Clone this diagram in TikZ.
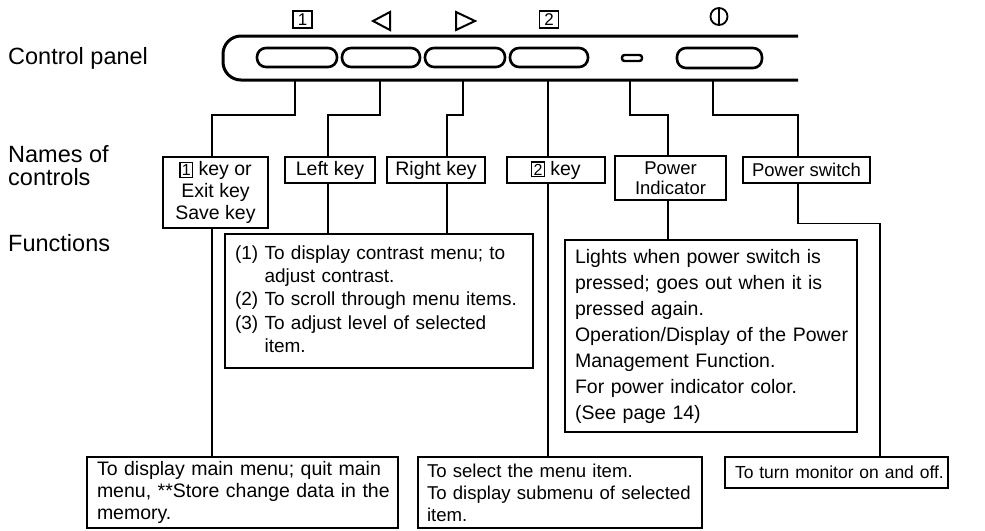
\documentclass[tikz,border=0pt]{standalone}
\usepackage{fontspec}
\setmainfont{Liberation Sans}
\usetikzlibrary{calc}
\newcommand{\bxd}[1]{{\setlength{\fboxsep}{1.2pt}\setlength{\fboxrule}{1.2pt}\fbox{\fontsize{16}{16}\selectfont #1}}}
\newcommand{\ml}[1]{\mbox{#1}}
\begin{document}
\begin{tikzpicture}[x=1pt,y=-1pt,
  panel/.style={line width=3pt},
  btn/.style={line width=2.6pt, rounded corners=9pt},
  lbl/.style={anchor=west, font=\fontsize{23.5}{24}\selectfont, align=left, inner sep=0pt},
  namebox/.style={draw, line width=1.3pt, inner sep=0pt, align=center, font=\fontsize{19.5}{21}\selectfont},
  txtbox/.style={draw, line width=1.3pt, inner ysep=0pt, inner xsep=10pt, align=left},
  sym/.style={draw, line width=1.8pt, inner sep=0pt, minimum width=19pt, minimum height=17pt, font=\fontsize{17}{17}\selectfont},
  conn/.style={line width=1.3pt}]
\useasboundingbox (0,0) rectangle (985,530);
\fill[white] (0,0) rectangle (985,530);

% left labels
\node[lbl] (lcp) at (8,58) {Control panel};
\node[lbl, font=\fontsize{23.5}{23}\selectfont] (lnc) at (8,166) {Names of\\controls};
\node[lbl] (lfn) at (8,243) {Functions};

% top symbols
\node[sym] (sy1) at (302.5,19.5) {1};
\draw[line width=2pt, line join=miter] (390,12) -- (373,21) -- (390,30) -- cycle;
\draw[line width=2pt, line join=miter] (456,12) -- (475,21) -- (456,30) -- cycle;
\node[sym] (sy2) at (549,19.5) {2};
\draw[line width=1.8pt] (719,16.5) circle (8.5);
\draw[line width=1.8pt] (719,8) -- (719,25);

% control panel
\draw[panel, rounded corners=18pt] (798,36) -- (223,36) -- (223,80) -- (798,80);
\draw[btn] (257,48) rectangle (337,67);
\draw[btn] (342,48) rectangle (420,67);
\draw[btn] (425,48) rectangle (505,67);
\draw[btn] (510,48) rectangle (588,67);
\draw[line width=2.4pt, rounded corners=2.5pt] (622,55) rectangle (642,61);
\draw[btn] (677,48) rectangle (762,68);

% stems
\coordinate (s1) at (295,80);
\coordinate (s2) at (380,80);
\coordinate (s3) at (463,80);
\coordinate (s4) at (548,80);
\coordinate (s5) at (630,80);
\coordinate (s6) at (713,80);

% names of controls
\node[namebox, minimum width=105pt, minimum height=71pt, font=\fontsize{19.5}{22}\selectfont] (n1) at (215.5,192.5) {\bxd{1} key or\\Exit key\\Save key};
\node[namebox, minimum width=90pt, minimum height=26pt] (n2) at (330,170) {Left key};
\node[namebox, minimum width=98pt, minimum height=26pt] (n3) at (436,170) {Right key};
\node[namebox, minimum width=98pt, minimum height=26pt] (n4) at (556,170) {\bxd{2} key};
\node[namebox, minimum width=111pt, minimum height=44pt, font=\fontsize{18.5}{20}\selectfont] (n5) at (670.5,178) {Power\\Indicator};
\node[namebox, minimum width=127pt, minimum height=26pt, font=\fontsize{18.5}{20}\selectfont] (n6) at (806.5,170) {Power switch};

% functions
\node[txtbox, text width=288pt, minimum height=134pt, font=\fontsize{19}{23.3}\selectfont] (f1) at (379,301)
  {\ml{(1) To display contrast menu; to}\\\ml{\phantom{(1)}\ adjust contrast.}\\\ml{(2) To scroll through menu items.}\\\ml{(3) To adjust level of selected}\\\ml{\phantom{(3)}\ item.}};
\node[txtbox, text width=272pt, minimum height=192pt, font=\fontsize{19.5}{26}\selectfont] (f2) at (711,336)
  {\ml{Lights when power switch is}\\\ml{pressed; goes out when it is}\\\ml{pressed again.}\\\ml{Operation/Display of the Power}\\\ml{Management Function.}\\\ml{For power indicator color.}\\\ml{(See page 14)}};

% bottom boxes
\node[txtbox, text width=291pt, minimum height=71pt, font=\fontsize{19.5}{22}\selectfont] (b1) at (242.5,492.5)
  {\ml{To display main menu; quit main}\\\ml{menu, **Store change data in the}\\\ml{memory.}};
\node[txtbox, inner xsep=9pt, text width=266pt, minimum height=71pt, font=\fontsize{18.6}{22}\selectfont] (b2) at (560,492.5)
  {\ml{To select the menu item.}\\\ml{To display submenu of selected}\\\ml{item.}};
\node[txtbox, text width=203pt, minimum height=31pt, font=\fontsize{17.5}{22}\selectfont] (b3) at (836.5,472.5)
  {\ml{To turn monitor on and off.}};

% connectors
\draw[conn] (s1) -- ++(0,35) -| ([xshift=-3.5pt]n1.north);
\draw[conn] ([xshift=-3.5pt]n1.south) -- ([xshift=-3.5pt]n1.south |- b1.north);
\draw[conn] (s2) -- ++(0,35) -| ([xshift=-2pt]n2.north);
\draw[conn] ([xshift=-2pt]n2.south) -- ([xshift=-2pt]n2.south |- f1.north);
\draw[conn] (s3) -- ++(0,35) -| ([xshift=11pt]n3.north);
\draw[conn] ([xshift=11pt]n3.south) -- ([xshift=11pt]n3.south |- f1.north);
\draw[conn] (s4) -- ([xshift=-8pt]n4.north);
\draw[conn] ([xshift=-8pt]n4.south) -- ([xshift=-8pt]n4.south |- b2.north);
\draw[conn] (s5) -- ++(0,35) -| ([xshift=-2.5pt]n5.north);
\draw[conn] ([xshift=-2.5pt]n5.south) -- ([xshift=-2.5pt]n5.south |- f2.north);
\draw[conn] (s6) -- ++(0,35) -| ([xshift=-8.5pt]n6.north);
\draw[conn] ([xshift=-8.5pt]n6.south) -- ++(0,40) -| ([xshift=43.5pt]b3.north);
\end{tikzpicture}
\end{document}
